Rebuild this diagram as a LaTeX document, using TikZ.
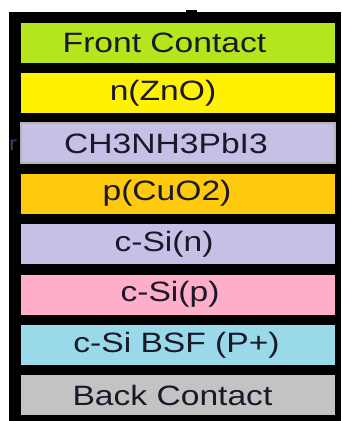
\documentclass[tikz,border=0pt]{standalone}
\usepackage{fontspec}
\newfontfamily\layerfont[FakeStretch=1.2]{Liberation Sans}
\usetikzlibrary{positioning}
\definecolor{frontgreen}{RGB}{181,230,29}
\definecolor{znoyellow}{RGB}{255,242,0}
\definecolor{perovlav}{RGB}{200,191,231}
\definecolor{cuoorange}{RGB}{255,201,14}
\definecolor{sipink}{RGB}{255,174,201}
\definecolor{bsfblue}{RGB}{153,217,234}
\definecolor{backgray}{RGB}{195,195,195}
\definecolor{edgegray}{RGB}{180,180,180}
\definecolor{inkdark}{RGB}{25,25,40}
\definecolor{cutblue}{RGB}{60,60,100}
\newcommand\leftby[2]{\hspace*{-#1}#2}

\begin{document}
\begin{tikzpicture}[x=1pt,y=-1pt,node distance=50.4pt,on grid,
    layer/.style={minimum width=314pt,minimum height=40pt,inner sep=0pt,
      text=inkdark,font=\layerfont\fontsize{28}{30}\selectfont}]
   \useasboundingbox (0,0) rectangle (341,421);
   \fill (9,12) rectangle (341,421);
   \fill (186,10) rectangle (197,12);
   \node[layer,fill=frontgreen] (front) at (178,42.5) {\leftby{27pt}{Front Contact}};
   \node[layer,fill=znoyellow] (zno) [below=of front] {\leftby{30pt}{n(ZnO)}};
   \node[layer,fill=perovlav,draw=edgegray,line width=2pt] (perov) [below=of zno] {\leftby{24pt}{CH3NH3PbI3}};
   \node[layer,fill=cuoorange] (cuo) [below=of perov] {\leftby{22pt}{p(CuO2)}};
   \node[layer,fill=perovlav] (sin) [below=of cuo] {\leftby{28pt}{c-Si(n)}};
   \node[layer,fill=sipink] (sip) [below=of sin] {\leftby{16pt}{c-Si(p)}};
   \node[layer,fill=bsfblue] (bsf) [below=of sip] {\leftby{3pt}{c-Si BSF (P+)}};
   \node[layer,fill=backgray] (back) [below=of bsf] {\leftby{11pt}{Back Contact}};
   \node[text=cutblue,inner sep=0pt,font=\layerfont\fontsize{20}{22}\selectfont] (cut) at (13,145) {r};
\end{tikzpicture}
\end{document}
